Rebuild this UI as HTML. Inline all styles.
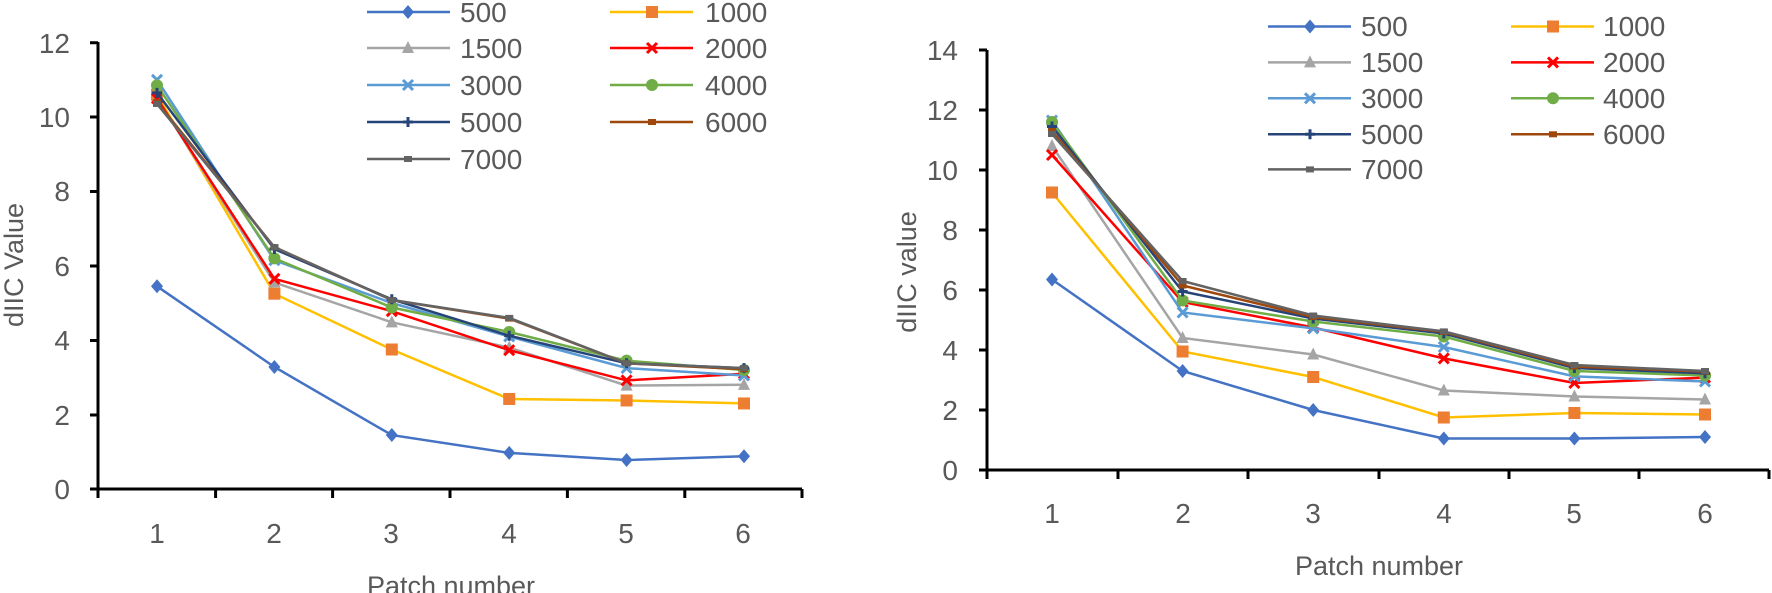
<!DOCTYPE html>
<html><head><meta charset="utf-8"><style>
html,body{margin:0;padding:0;background:#fff;}
svg{display:block;font-family:"Liberation Sans",sans-serif;}
</style></head><body>
<svg id="s" width="1772" height="593" viewBox="0 0 1772 593" xmlns="http://www.w3.org/2000/svg">
<g fill="#595959" font-size="28">
<g text-anchor="end">
<text x="70" y="499">0</text><text x="70" y="425">2</text><text x="70" y="350">4</text><text x="70" y="276">6</text><text x="70" y="201">8</text><text x="70" y="127">10</text><text x="70" y="53">12</text>
</g>
<g text-anchor="middle">
<text x="157" y="543">1</text><text x="274" y="543">2</text><text x="391" y="543">3</text><text x="509" y="543">4</text><text x="626" y="543">5</text><text x="743" y="543">6</text>
<text x="451" y="595" font-size="27">Patch number</text>
<text transform="translate(23,265) rotate(-90)" font-size="27">dIIC Value</text>
</g>
<g text-anchor="end">
<text x="958" y="480">0</text><text x="958" y="420">2</text><text x="958" y="360">4</text><text x="958" y="300">6</text><text x="958" y="240">8</text><text x="958" y="180">10</text><text x="958" y="120">12</text><text x="958" y="60">14</text>
</g>
<g text-anchor="middle">
<text x="1052" y="523">1</text><text x="1183" y="523">2</text><text x="1313" y="523">3</text><text x="1444" y="523">4</text><text x="1574" y="523">5</text><text x="1705" y="523">6</text>
<text x="1379" y="575" font-size="27">Patch number</text>
<text transform="translate(916,272) rotate(-90)" font-size="27">dIIC value</text>
</g>
<text x="460" y="22">500</text><text x="705" y="22">1000</text>
<text x="460" y="58">1500</text><text x="705" y="58">2000</text>
<text x="460" y="95">3000</text><text x="705" y="95">4000</text>
<text x="460" y="132">5000</text><text x="705" y="132">6000</text>
<text x="460" y="169">7000</text>
<text x="1361" y="36">500</text><text x="1603" y="36">1000</text>
<text x="1361" y="72">1500</text><text x="1603" y="72">2000</text>
<text x="1361" y="108">3000</text><text x="1603" y="108">4000</text>
<text x="1361" y="144">5000</text><text x="1603" y="144">6000</text>
<text x="1361" y="179">7000</text>
</g>
<g stroke="#000" stroke-width="3" fill="none">
<path d="M98 42 V489 H802 M90 42.7H98 M90 117H98 M90 191.5H98 M90 266H98 M90 340.5H98 M90 415H98 M90 489H98 M98 489V498 M215.6 489V498 M332.6 489V498 M450 489V498 M567.4 489V498 M684.8 489V498 M802 489V498"/>
<path d="M987 50 V470 H1769 M979 50H987 M979 110H987 M979 170H987 M979 230H987 M979 290H987 M979 350H987 M979 410H987 M979 470H987 M987 470V479 M1118 470V479 M1248 470V479 M1379 470V479 M1509 470V479 M1639 470V479 M1769 470V479"/>
</g>
<g id="series"></g>
</svg>
<script>
var C=[["#4472C4","#4472C4","d"],["#FFC000","#ED7D31","s"],["#A5A5A5","#A5A5A5","t"],["#FF0000","#FF0000","x"],["#5B9BD5","#5B9BD5","x"],["#70AD47","#70AD47","c"],["#264478","#264478","p"],["#9E480E","#9E480E","r"],["#636363","#636363","r"]];
var L=[[5.45,3.28,1.45,0.97,0.78,0.88],[10.6,5.25,3.75,2.42,2.38,2.3],[10.5,5.55,4.48,3.8,2.78,2.8],[10.5,5.65,4.78,3.73,2.92,3.1],[11.0,6.15,5.0,4.1,3.25,3.05],[10.85,6.2,4.88,4.22,3.45,3.2],[10.65,6.45,5.1,4.12,3.38,3.25],[10.4,6.5,5.08,4.58,3.38,3.22],[10.35,6.5,5.08,4.6,3.38,3.25]];
var R=[[6.35,3.3,2.0,1.05,1.05,1.1],[9.25,3.95,3.1,1.75,1.9,1.85],[10.8,4.4,3.85,2.65,2.45,2.35],[10.5,5.6,4.75,3.72,2.9,3.08],[11.65,5.25,4.72,4.1,3.12,2.95],[11.6,5.65,4.95,4.45,3.3,3.15],[11.45,5.95,5.05,4.55,3.4,3.22],[11.3,6.15,5.1,4.6,3.45,3.28],[11.2,6.3,5.15,4.62,3.5,3.3]];
function mk(t,x,y,c){
 if(t=="d")return '<path d="M'+x+' '+(y-7)+'L'+(x+6)+' '+y+'L'+x+' '+(y+7)+'L'+(x-6)+' '+y+'Z" fill="'+c+'"/>';
 if(t=="s")return '<rect x="'+(x-6)+'" y="'+(y-6)+'" width="12" height="12" fill="'+c+'"/>';
 if(t=="t")return '<path d="M'+x+' '+(y-7)+'L'+(x+6)+' '+(y+5)+'L'+(x-6)+' '+(y+5)+'Z" fill="'+c+'"/>';
 if(t=="x")return '<path d="M'+(x-5)+' '+(y-5)+'L'+(x+5)+' '+(y+5)+'M'+(x+5)+' '+(y-5)+'L'+(x-5)+' '+(y+5)+'" stroke="'+c+'" stroke-width="3"/>';
 if(t=="c")return '<circle cx="'+x+'" cy="'+y+'" r="6" fill="'+c+'"/>';
 if(t=="p")return '<path d="M'+(x-5)+' '+y+'H'+(x+5)+'M'+x+' '+(y-5)+'V'+(y+5)+'" stroke="'+c+'" stroke-width="3"/>';
 return '<rect x="'+(x-4)+'" y="'+(y-3)+'" width="8" height="6" fill="'+c+'"/>';
}
var h="";
function draw(D,x0,dx,y0,sy){
 for(var i=0;i<D.length;i++){var p=[],m="";
  for(var j=0;j<6;j++){var x=x0+j*dx,y=y0-D[i][j]*sy;p.push(x.toFixed(1)+","+y.toFixed(1));m+=mk(C[i][2],x,y,C[i][1]);}
  h+='<polyline points="'+p.join(" ")+'" fill="none" stroke="'+C[i][0]+'" stroke-width="2.5"/>'+m;}
}
draw(L,157,117.4,489,37.2);
draw(R,1052,130.6,470,30);
function leg(x1,x2,xm,y,i){h+='<line x1="'+x1+'" x2="'+x2+'" y1="'+y+'" y2="'+y+'" stroke="'+C[i][0]+'" stroke-width="2.5"/>'+mk(C[i][2],xm,y,C[i][1]);}
var ly=[12,48,85,122,159],ry=[26.5,62.4,98.3,134.3,169.4];
for(var i=0;i<9;i++){var r=Math.floor(i/2),c=i%2;
 if(c==0){leg(367,450,408,ly[r],i);leg(1268,1351,1310,ry[r],i);}
 else{leg(610,693,652,ly[r],i);leg(1511,1594,1553,ry[r],i);}}
document.getElementById("series").innerHTML=h;
</script>
</body></html>
